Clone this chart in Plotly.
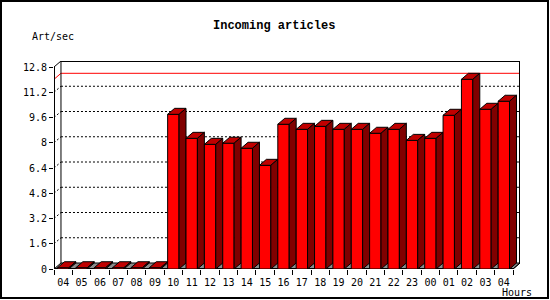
import plotly.graph_objects as go

# ---- data ----
hours = ["04", "05", "06", "07", "08", "09", "10", "11", "12", "13", "14", "15", "16",
         "17", "18", "19", "20", "21", "22", "23", "00", "01", "02", "03", "04"]
rates = [0.08, 0.08, 0.08, 0.08, 0.08, 0.08, 9.80, 8.28, 7.90, 7.97, 7.65, 6.57, 9.17,
         8.85, 9.04, 8.85, 8.85, 8.60, 8.85, 8.15, 8.28, 9.74, 12.02, 10.12, 10.63]
ytick_vals = [0, 1.6, 3.2, 4.8, 6.4, 8, 9.6, 11.2, 12.8]
ytick_text = ["0", "1.6", "3.2", "4.8", "6.4", "8", "9.6", "11.2", "12.8"]
title_text = "Incoming articles"
y_label = "Art/sec"
x_label = "Hours"

# ---- geometry (data units) ----
DX = 0.38   # depth offset along x
DY = 0.38   # depth offset along y
BW = 0.62   # bar front width
YMAX = 12.8
n = len(hours)
X0, X1 = -0.5, n - 0.5

W, H = 550, 300
ML, MR, MT, MB = 54, 30, 61, 31
PW, PH = W - ML - MR, H - MT - MB

fig = go.Figure()


def poly_trace(polys, fill, lw=1, color="black"):
    xs, ys = [], []
    for p in polys:
        for (a, b) in p:
            xs.append(a)
            ys.append(b)
        xs.append(p[0][0]); ys.append(p[0][1])
        xs.append(None); ys.append(None)
    return go.Scatter(x=xs, y=ys, mode="lines", fill="toself", fillcolor=fill,
                      line=dict(color=color, width=lw), hoverinfo="skip",
                      showlegend=False)


def line_trace(segs, color="black", width=1, dash="solid"):
    xs, ys = [], []
    for s in segs:
        for (a, b) in s:
            xs.append(a); ys.append(b)
        xs.append(None); ys.append(None)
    return go.Scatter(x=xs, y=ys, mode="lines", line=dict(color=color, width=width, dash=dash),
                      hoverinfo="skip", showlegend=False)


# floor
fig.add_trace(poly_trace([[(X0, 0), (X1, 0), (X1 + DX, DY), (X0 + DX, DY)]], "#8c8c8c"))

# back wall grid (dotted) and side wall diagonals
grid_back = [[(X0 + DX, v + DY), (X1 + DX, v + DY)] for v in ytick_vals[1:-1]]
grid_side = [[(X0, v), (X0 + DX, v + DY)] for v in ytick_vals[1:-1]]
fig.add_trace(line_trace(grid_back + grid_side, dash="2px,2px"))

# max line
vmax = max(rates)
fig.add_trace(line_trace([[(X0, vmax), (X0 + DX, vmax + DY), (X1 + DX, vmax + DY)]], color="#ff0000"))

# frame
frame = [
    [(X0 + DX, DY), (X0 + DX, YMAX + DY)],
    [(X0, YMAX), (X0 + DX, YMAX + DY)],
    [(X1, 0), (X1 + DX, DY)],
]
fig.add_trace(line_trace(frame))
edge = [
    [(X0, 0), (X0, YMAX)],
    [(X0, 0), (X1, 0)],
    [(X0 + DX, YMAX + DY), (X1 + DX, YMAX + DY)],
    [(X1 + DX, DY), (X1 + DX, YMAX + DY)],
]
fig.add_trace(line_trace(edge, width=2))

# bars
fronts, tops, sides = [], [], []
for i, v in enumerate(rates):
    l, r = i - BW / 2, i + BW / 2
    fronts.append([(l, 0), (r, 0), (r, v), (l, v)])
    tops.append([(l, v), (r, v), (r + DX, v + DY), (l + DX, v + DY)])
    sides.append([(r, 0), (r + DX, DY), (r + DX, v + DY), (r, v)])
for i in range(n):
    fig.add_trace(poly_trace([fronts[i]], "#ff0000"))
    fig.add_trace(poly_trace([tops[i]], "#c00000"))
    fig.add_trace(poly_trace([sides[i]], "#800000"))

mono = "DejaVu Sans Mono"
fig.update_layout(
    width=W, height=H,
    margin=dict(l=ML, r=MR, t=MT, b=MB, pad=0),
    paper_bgcolor="white", plot_bgcolor="white",
    showlegend=False,
    font=dict(family=mono, size=10, color="black"),
    xaxis=dict(range=[X0, X1 + DX], showgrid=False, zeroline=False, showline=False,
               tickmode="array", tickvals=list(range(n)), ticktext=hours,
               ticks="outside", ticklen=4, tickcolor="rgba(0,0,0,0)",
               tickfont=dict(family=mono, size=10),
               minor=dict(ticks="outside", tick0=-0.5, dtick=1, ticklen=5,
                          tickcolor="black", tickwidth=1, showgrid=False),
               fixedrange=True),
    yaxis=dict(range=[0, YMAX + DY], showgrid=False, zeroline=False, showline=False,
               tickmode="array", tickvals=ytick_vals, ticktext=ytick_text,
               ticks="outside", ticklen=4, tickcolor="black",
               tickfont=dict(family=mono, size=10), fixedrange=True),
    shapes=[dict(type="rect", xref="paper", yref="paper",
                 x0=(1 - ML) / PW, x1=(548 - ML) / PW,
                 y0=(H - MB - 298) / PH, y1=(H - MB - 1) / PH,
                 line=dict(color="black", width=2), fillcolor="rgba(0,0,0,0)")],
    annotations=[
        dict(text="<b>" + title_text + "</b>", xref="paper", yref="paper",
             x=(274 - ML) / PW, y=(H - MB - 26) / PH, xanchor="center", yanchor="middle",
             showarrow=False, font=dict(family="Liberation Mono", size=12, color="black")),
        dict(text=y_label, xref="paper", yref="paper",
             x=(30 - ML) / PW, y=(H - MB - 37) / PH, xanchor="left", yanchor="middle",
             showarrow=False, font=dict(family=mono, size=10)),
        dict(text=x_label, xref="paper", yref="paper",
             x=(534 - ML) / PW, y=(H - MB - 292) / PH, xanchor="right", yanchor="middle",
             showarrow=False, font=dict(family=mono, size=10)),
    ],
)

fig.write_html("out.html", config={"displayModeBar": False, "staticPlot": True})
